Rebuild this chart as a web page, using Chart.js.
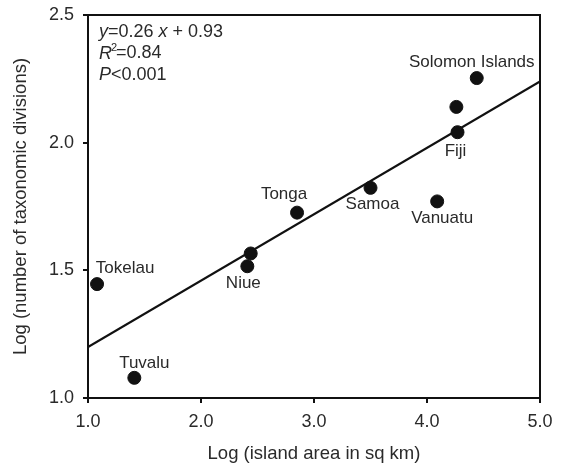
<!DOCTYPE html>
<html>
<head>
<meta charset="utf-8">
<script src="https://cdn.jsdelivr.net/npm/chart.js@4"></script>
<style>
html,body{margin:0;padding:0;background:#fff;}
#wrap{width:569px;height:465px;position:relative;}
</style>
</head>
<body>
<div id="wrap"><canvas id="c"></canvas></div>
<script>
// ---- data ----
const islands = ["Tokelau","Tuvalu","Niue","","Tonga","Samoa","Vanuatu","Fiji","","Solomon Islands"];
const logArea = [1.08, 1.41, 2.41, 2.44, 2.85, 3.50, 4.09, 4.27, 4.26, 4.44];
const logDivisions = [1.446, 1.079, 1.516, 1.566, 1.726, 1.823, 1.770, 2.041, 2.140, 2.253];
const fitX = [1.0, 5.0];
const fitY = [1.20, 2.24];
const xTicks = [1.0, 2.0, 3.0, 4.0, 5.0];
const yTicks = [1.0, 1.5, 2.0, 2.5];
const statLines = [["y","=0.26 ","x"," + 0.93"],["R","2","=0.84"],["P","<0.001"]];

// ---- styling (label offsets in px relative to their point) ----
const labelOffsets = {
  "Tokelau":[28,-16], "Tuvalu":[10,-15], "Niue":[-4,17], "Tonga":[-13,-18],
  "Samoa":[2,16], "Vanuatu":[5,17], "Fiji":[-2,19], "Solomon Islands":[-5,-16]
};
const FONT = "'Liberation Sans', Arial, sans-serif";
const TXT = "#2a2a2a";
const INK = "#111";

const pts = logArea.map((x,i)=>({x:x,y:logDivisions[i]}));
const fit = fitX.map((x,i)=>({x:x,y:fitY[i]}));

const overlay = {
  id:'overlay',
  afterDatasetsDraw(chart){
    const ctx = chart.ctx, xs = chart.scales.x, ys = chart.scales.y, a = chart.chartArea;
    ctx.save();
    ctx.strokeStyle = INK; ctx.lineWidth = 2;
    ctx.strokeRect(a.left, a.top, a.right-a.left, a.bottom-a.top);
    ctx.fillStyle = TXT; ctx.font = "17px " + FONT;
    ctx.textAlign = "center"; ctx.textBaseline = "middle";
    islands.forEach((n,i)=>{
      if(!n) return;
      const o = labelOffsets[n];
      ctx.fillText(n, xs.getPixelForValue(logArea[i]) + o[0], ys.getPixelForValue(logDivisions[i]) + o[1]);
    });
    ctx.textAlign = "left"; ctx.textBaseline = "middle";
    const x0 = a.left + 11;
    let y = a.top + 17;
    const it = "italic 18px " + FONT, rg = "18px " + FONT;
    let x = x0;
    ctx.font = it; ctx.fillText(statLines[0][0], x, y); x += ctx.measureText(statLines[0][0]).width;
    ctx.font = rg; ctx.fillText(statLines[0][1], x, y); x += ctx.measureText(statLines[0][1]).width;
    ctx.font = it; ctx.fillText(statLines[0][2], x, y); x += ctx.measureText(statLines[0][2]).width;
    ctx.font = rg; ctx.fillText(statLines[0][3], x, y);
    y += 21.5; x = x0;
    ctx.font = it; ctx.fillText(statLines[1][0], x, y); x += ctx.measureText(statLines[1][0]).width;
    ctx.font = "11px " + FONT; ctx.fillText(statLines[1][1], x - 1, y - 6); x += 4;
    ctx.font = rg; ctx.fillText(statLines[1][2], x, y);
    y += 21.5; x = x0;
    ctx.font = it; ctx.fillText(statLines[2][0], x, y); x += ctx.measureText(statLines[2][0]).width;
    ctx.font = rg; ctx.fillText(statLines[2][1], x, y);
    ctx.restore();
  }
};

new Chart(document.getElementById('c'), {
  type:'scatter',
  data:{
    datasets:[
      {type:'line', data:fit, borderColor:INK, borderWidth:2.2, pointRadius:0, fill:false, order:2},
      {data:pts, backgroundColor:INK, borderColor:INK, pointRadius:6.5, pointHoverRadius:6.5, order:1}
    ]
  },
  options:{
    responsive:true, maintainAspectRatio:false, animation:false,
    layout:{padding:{top:15, right:29, left:0, bottom:0}},
    plugins:{legend:{display:false}, tooltip:{enabled:false}},
    scales:{
      x:{
        type:'linear', min:1, max:5,
        afterFit(s){ s.height = 67; s.paddingLeft = 0; s.paddingRight = 0; },
        afterBuildTicks(s){ s.ticks = xTicks.map(v=>({value:v})); },
        ticks:{color:TXT, font:{family:FONT, size:18}, padding:8, callback:v=>v.toFixed(1), maxRotation:0},
        grid:{drawOnChartArea:false, drawTicks:true, tickLength:5, color:INK, lineWidth:2},
        border:{display:true, color:INK, width:2},
        title:{display:true, text:'Log (island area in sq km)', color:TXT, font:{family:FONT, size:18.5}, padding:{top:6,bottom:0}}
      },
      y:{
        type:'linear', min:1, max:2.5,
        afterFit(s){ s.width = 88; s.paddingTop = 0; s.paddingBottom = 0; },
        afterBuildTicks(s){ s.ticks = yTicks.map(v=>({value:v})); },
        ticks:{color:TXT, font:{family:FONT, size:18}, padding:9, callback:v=>v.toFixed(1)},
        grid:{drawOnChartArea:false, drawTicks:true, tickLength:5, color:INK, lineWidth:2},
        border:{display:true, color:INK, width:2},
        title:{display:true, text:'Log (number of taxonomic divisions)', color:TXT, font:{family:FONT, size:18.5}, padding:{top:10,bottom:0}}
      }
    }
  },
  plugins:[overlay]
});
</script>
</body>
</html>
